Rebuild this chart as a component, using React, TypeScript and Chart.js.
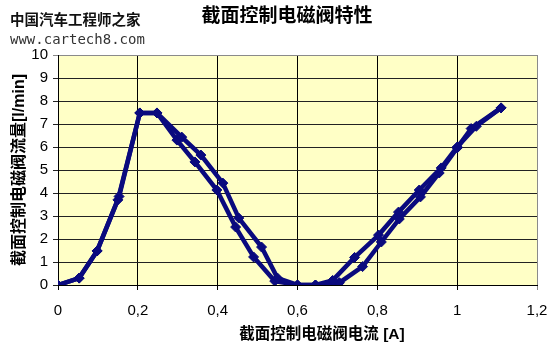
import React, { useEffect, useRef } from "react";
import { Chart, registerables } from "chart.js";

Chart.register(...registerables);

const chartTitle = "截面控制电磁阀特性";
const xAxisTitle = "截面控制电磁阀电流 [A]";
const yAxisTitle = "截面控制电磁阀流量[l/min]";
const watermarkCn = "中国汽车工程师之家";
const watermarkUrl = "www.cartech8.com";

const xTickLabels = ["0", "0,2", "0,4", "0,6", "0,8", "1", "1,2"];

// outer branch
const currentA = [0, 0.053, 0.098, 0.153, 0.205, 0.248, 0.31, 0.358, 0.413, 0.453, 0.51, 0.55, 0.6, 0.645, 0.688, 0.743, 0.803, 0.853, 0.905, 0.96, 1.0, 1.048, 1.11];
const flowA = [0, 0.3, 1.48, 3.85, 7.48, 7.48, 6.43, 5.65, 4.43, 2.91, 1.65, 0.3, 0, 0, 0.2, 1.2, 2.17, 3.17, 4.13, 5.09, 6.0, 6.9, 7.7];
// inner branch
const currentB = [0, 0.053, 0.098, 0.15, 0.205, 0.248, 0.298, 0.343, 0.398, 0.445, 0.49, 0.543, 0.6, 0.645, 0.705, 0.763, 0.81, 0.855, 0.908, 0.955, 1.0, 1.035, 1.11];
const flowB = [0, 0.3, 1.48, 3.7, 7.48, 7.48, 6.3, 5.35, 4.13, 2.52, 1.22, 0.17, 0, 0, 0.1, 0.8, 1.87, 2.87, 3.83, 4.87, 5.96, 6.8, 7.7];

const NAVY = "#0a0a7e";

const toPoints = (xs: number[], ys: number[]) => xs.map((x, i) => ({ x, y: ys[i] }));

const bgPlugin = {
  id: "plotBg",
  beforeDraw(chart: any) {
    const { ctx, chartArea } = chart;
    ctx.save();
    ctx.fillStyle = "#FFFFC6";
    ctx.fillRect(chartArea.left, chartArea.top, chartArea.right - chartArea.left, chartArea.bottom - chartArea.top);
    ctx.restore();
  },
};

const textPlugin = {
  id: "texts",
  afterDraw(chart: any) {
    const { ctx } = chart;
    ctx.save();
    ctx.textBaseline = "middle";
    ctx.fillStyle = "#000";
    ctx.textAlign = "center";
    ctx.font = 'bold 19px "Liberation Sans", "Noto Sans CJK SC"';
    ctx.fillText(chartTitle, 287, 17);
    ctx.font = 'bold 15.5px "Liberation Sans", "Noto Sans CJK SC"';
    ctx.fillText(xAxisTitle, 322, 335);
    ctx.textAlign = "left";
    ctx.font = 'bold 14.5px "Noto Sans CJK SC"';
    ctx.fillStyle = "#111";
    ctx.fillText(watermarkCn, 10, 19);
    ctx.font = '14px "DejaVu Sans Mono"';
    ctx.fillStyle = "#333";
    ctx.fillText(watermarkUrl, 10, 40);
    ctx.restore();
  },
};

export default function App() {
  const ref = useRef<HTMLCanvasElement | null>(null);
  useEffect(() => {
    if (!ref.current) return;
    const ds = (xs: number[], ys: number[]) => ({
      data: toPoints(xs, ys),
      showLine: true,
      borderColor: NAVY,
      backgroundColor: NAVY,
      borderWidth: 4.5,
      pointStyle: "rectRot",
      pointRadius: 5,
      pointBorderWidth: 1,
      pointBorderColor: NAVY,
      pointBackgroundColor: NAVY,
      tension: 0,
    });
    const chart = new Chart(ref.current, {
      type: "scatter",
      data: { datasets: [ds(currentA, flowA), ds(currentB, flowB)] as any },
      options: {
        responsive: false,
        animation: false,
        layout: { padding: { top: 55, right: 15, left: 0, bottom: 0 } },
        plugins: { legend: { display: false }, tooltip: { enabled: false }, title: { display: false } },
        scales: {
          x: {
            type: "linear",
            min: 0,
            max: 1.2,
            afterFit: (s: any) => { s.height = 65; s.paddingLeft = 0; s.paddingRight = 0; },
            afterBuildTicks: (s: any) => { s.ticks = xTickLabels.map((_, i) => ({ value: i * 0.2 })); },
            ticks: {
              stepSize: 0.2,
              color: "#000",
              padding: 12,
              maxRotation: 0,
              minRotation: 0,
              font: { family: '"Liberation Sans", Arial', size: 15 },
              callback: (_v: any, i: number) => xTickLabels[i],
            },
            grid: {
              color: (c: any) => (c.index === xTickLabels.length - 1 ? "#8a8a8a" : "#000"),
              tickLength: 5,
              lineWidth: 1,
            },
            border: { color: "#000", width: 1 },
          },
          y: {
            min: 0,
            max: 10,
            afterFit: (s: any) => { s.width = 58; s.paddingTop = 0; s.paddingBottom = 0; },
            ticks: {
              stepSize: 1,
              color: "#000",
              padding: 5,
              font: { family: '"Liberation Sans", Arial', size: 15 },
            },
            grid: {
              color: (c: any) => (c.tick && c.tick.value === 10 ? "#8a8a8a" : "#222"),
              tickLength: 5,
              lineWidth: 1,
            },
            border: { color: "#000", width: 1 },
            title: {
              display: true,
              text: yAxisTitle,
              color: "#000",
              font: { family: '"Liberation Sans", "Noto Sans CJK SC"', size: 16, weight: "bold" },
              padding: { top: 10, bottom: 0 },
            },
          },
        },
      },
      plugins: [bgPlugin, textPlugin],
    });
    return () => chart.destroy();
  }, []);
  return (
    <div style={{ position: "absolute", left: 0, top: 0, width: 552, height: 350, background: "#fff" }}>
      <canvas ref={ref} width={552} height={350} />
    </div>
  );
}
